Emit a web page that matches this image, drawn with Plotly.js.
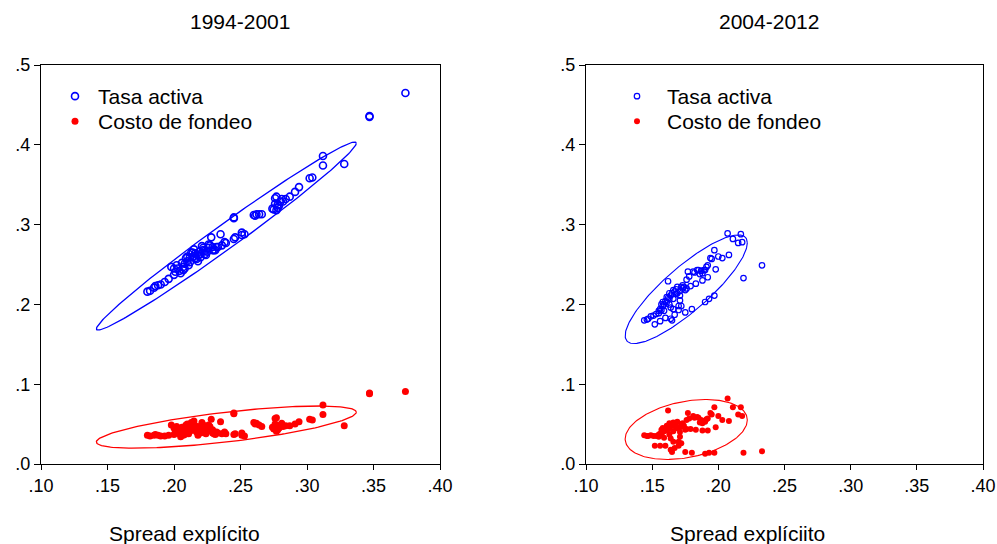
<!DOCTYPE html>
<html>
<head>
<meta charset="utf-8">
<script src="https://cdn.plot.ly/plotly-3.0.1.min.js"></script>
<style>html,body{margin:0;padding:0;background:#fff;}#chart{width:997px;height:544px;}</style>
</head>
<body>
<div id="chart"></div>
<script>
// ---------- 1994-2001 ----------
const leftSpread = [0.180,0.182,0.185,0.186,0.188,0.190,0.193,0.196,0.198,0.200,
0.201,0.202,0.204,0.205,0.207,0.207,0.208,0.209,0.210,0.211,
0.212,0.213,0.214,0.215,0.216,0.217,0.218,0.219,0.220,0.222,
0.222,0.223,0.224,0.226,0.226,0.228,0.229,0.230,0.232,0.233,
0.235,0.236,0.238,0.239,0.245,0.245,0.245,0.246,0.251,0.251,
0.253,0.260,0.261,0.262,0.264,0.266,0.274,0.275,0.276,0.276,
0.277,0.277,0.278,0.278,0.279,0.280,0.281,0.282,0.284,0.287,
0.291,0.294,0.302,0.304,0.312,0.312,0.328,0.347,0.347,0.374,
0.200,0.203,0.206,0.208,0.210,0.212,0.214,0.216,0.218,0.220,
0.221,0.223,0.225,0.227,0.229,0.231];
const leftCosto = [0.036,0.035,0.036,0.037,0.036,0.035,0.035,0.036,0.049,0.045,
0.040,0.047,0.038,0.034,0.036,0.040,0.043,0.049,0.044,0.038,
0.047,0.052,0.051,0.054,0.042,0.040,0.036,0.047,0.043,0.049,
0.046,0.040,0.038,0.045,0.049,0.056,0.039,0.038,0.040,0.039,
0.053,0.038,0.040,0.038,0.064,0.063,0.037,0.038,0.039,0.036,
0.035,0.052,0.050,0.051,0.049,0.047,0.046,0.044,0.057,0.050,
0.041,0.058,0.047,0.043,0.045,0.049,0.051,0.047,0.048,0.048,
0.050,0.053,0.056,0.055,0.062,0.074,0.048,0.089,0.088,0.091,
0.037,0.042,0.046,0.037,0.050,0.041,0.045,0.048,0.043,0.039,
0.052,0.044,0.041,0.047,0.043,0.037];
const leftTasa = [0.216,0.217,0.221,0.223,0.224,0.225,0.228,0.232,0.247,0.245,
0.241,0.249,0.242,0.239,0.243,0.247,0.251,0.258,0.254,0.249,
0.259,0.265,0.265,0.269,0.258,0.257,0.254,0.266,0.263,0.271,
0.268,0.263,0.262,0.271,0.275,0.284,0.268,0.268,0.272,0.272,
0.288,0.274,0.278,0.277,0.309,0.308,0.282,0.284,0.290,0.287,
0.288,0.312,0.311,0.313,0.313,0.313,0.320,0.319,0.333,0.326,
0.318,0.335,0.325,0.321,0.324,0.329,0.332,0.329,0.332,0.335,
0.341,0.347,0.358,0.359,0.374,0.386,0.376,0.436,0.435,0.465,
0.237,0.245,0.252,0.245,0.260,0.253,0.259,0.264,0.261,0.259,
0.273,0.267,0.266,0.274,0.272,0.268];

// ---------- 2004-2012 ----------
const rightSpread = [0.144,0.146,0.147,0.149,0.151,0.152,0.153,0.155,0.156,0.156,
0.157,0.158,0.160,0.160,0.161,0.162,0.162,0.163,0.164,0.164,
0.165,0.165,0.166,0.166,0.167,0.168,0.168,0.169,0.170,0.170,
0.171,0.171,0.172,0.172,0.173,0.174,0.175,0.176,0.176,0.177,
0.178,0.180,0.181,0.182,0.183,0.184,0.185,0.186,0.187,0.188,
0.188,0.189,0.190,0.190,0.191,0.192,0.193,0.194,0.195,0.197,
0.197,0.198,0.203,0.208,0.207,0.211,0.215,0.217,0.218,
0.219,0.233,0.159,0.163,0.179,0.192,0.200,
0.155,0.157,0.158,0.159,0.161,0.163,0.164,0.166,0.167,0.169,
0.171,0.173,0.175];
const rightCosto = [0.036,0.035,0.035,0.036,0.035,0.023,0.035,0.034,0.023,0.038,
0.043,0.040,0.044,0.023,0.048,0.067,0.046,0.051,0.032,0.018,
0.015,0.049,0.028,0.052,0.020,0.051,0.045,0.053,0.028,0.023,
0.034,0.046,0.026,0.050,0.051,0.048,0.015,0.055,0.044,0.064,
0.057,0.014,0.060,0.058,0.043,0.059,0.058,0.052,0.055,0.051,
0.042,0.054,0.053,0.013,0.056,0.042,0.014,0.064,0.062,0.071,
0.014,0.046,0.055,0.054,0.082,0.071,0.062,0.071,0.060,
0.014,0.016,0.041,0.037,0.044,0.057,0.060,
0.037,0.036,0.045,0.033,0.042,0.044,0.047,0.041,0.049,0.045,
0.040,0.047,0.043];
const rightTasa = [0.180,0.181,0.182,0.185,0.186,0.175,0.188,0.189,0.179,0.194,
0.200,0.198,0.204,0.183,0.209,0.229,0.208,0.214,0.196,0.182,
0.180,0.214,0.194,0.218,0.187,0.219,0.213,0.222,0.198,0.193,
0.205,0.217,0.198,0.222,0.224,0.222,0.190,0.231,0.220,0.241,
0.235,0.194,0.241,0.240,0.226,0.243,0.243,0.238,0.242,0.239,
0.230,0.243,0.243,0.203,0.247,0.234,0.207,0.258,0.257,0.268,
0.211,0.244,0.258,0.262,0.289,0.282,0.277,0.288,0.278,
0.233,0.249,0.200,0.200,0.223,0.249,0.260,
0.192,0.193,0.203,0.192,0.203,0.207,0.211,0.207,0.216,0.214,
0.211,0.220,0.218];

const panelTitles = ["1994-2001", "2004-2012"];
const xTitles = ["Spread explícito", "Spread explíciito"];
const seriesNames = ["Tasa activa", "Costo de fondeo"];
const xTickVals = [0.10,0.15,0.20,0.25,0.30,0.35,0.40];
const xTickText = [".10",".15",".20",".25",".30",".35",".40"];
const yTickVals = [0.0,0.1,0.2,0.3,0.4,0.5];
const yTickText = [".0",".1",".2",".3",".4",".5"];
const confidence = 0.95;

// covariance ellipse computed from the data
function ellipse(xs, ys) {
  const n = xs.length;
  const mx = xs.reduce((a,b)=>a+b,0)/n, my = ys.reduce((a,b)=>a+b,0)/n;
  let sxx=0, syy=0, sxy=0;
  for (let i=0;i<n;i++){const dx=xs[i]-mx, dy=ys[i]-my; sxx+=dx*dx; syy+=dy*dy; sxy+=dx*dy;}
  sxx/=(n-1); syy/=(n-1); sxy/=(n-1);
  const k = Math.sqrt(-2*Math.log(1-confidence));
  const a = Math.sqrt(sxx), b = sxy/a, c = Math.sqrt(Math.max(syy-b*b,0));
  const ex=[], ey=[];
  for (let j=0;j<=200;j++){const t=2*Math.PI*j/200; ex.push(mx+k*a*Math.cos(t)); ey.push(my+k*(b*Math.cos(t)+c*Math.sin(t)));}
  return {x:ex, y:ey};
}

const BLUE = "#0000ff", RED = "#ff0000";
const eLT = ellipse(leftSpread, leftTasa), eLC = ellipse(leftSpread, leftCosto);
const eRT = ellipse(rightSpread, rightTasa), eRC = ellipse(rightSpread, rightCosto);

const traces = [
  {x:eLT.x, y:eLT.y, mode:"lines", line:{color:BLUE,width:1.3}, showlegend:false, hoverinfo:"skip", xaxis:"x", yaxis:"y"},
  {x:eLC.x, y:eLC.y, mode:"lines", line:{color:RED,width:1.3}, showlegend:false, hoverinfo:"skip", xaxis:"x", yaxis:"y"},
  {x:leftSpread, y:leftTasa, name:seriesNames[0], mode:"markers", marker:{symbol:"circle-open", size:7, color:BLUE, line:{width:1.6, color:BLUE}}, xaxis:"x", yaxis:"y", legend:"legend"},
  {x:leftSpread, y:leftCosto, name:seriesNames[1], mode:"markers", marker:{symbol:"circle", size:7, color:RED}, xaxis:"x", yaxis:"y", legend:"legend2"},
  {x:eRT.x, y:eRT.y, mode:"lines", line:{color:BLUE,width:1.1}, showlegend:false, hoverinfo:"skip", xaxis:"x2", yaxis:"y2"},
  {x:eRC.x, y:eRC.y, mode:"lines", line:{color:RED,width:1.1}, showlegend:false, hoverinfo:"skip", xaxis:"x2", yaxis:"y2"},
  {x:rightSpread, y:rightTasa, name:seriesNames[0], mode:"markers", marker:{symbol:"circle-open", size:5.5, color:BLUE, line:{width:1.2, color:BLUE}}, xaxis:"x2", yaxis:"y2", legend:"legend3"},
  {x:rightSpread, y:rightCosto, name:seriesNames[1], mode:"markers", marker:{symbol:"circle", size:6, color:RED}, xaxis:"x2", yaxis:"y2", legend:"legend4"}
];

const FONT = "Liberation Sans, Arial, sans-serif";
const W = 997, H = 544;
function px(v){return v/W;} function py(v){return (H-v)/H;}
const axX = {range:[0.10,0.40], tickvals:xTickVals, ticktext:xTickText, ticks:"outside", ticklen:5, tickwidth:1, tickcolor:"#000",
  showline:true, linecolor:"#000", linewidth:1.2, mirror:true, showgrid:false, zeroline:false, tickfont:{family:FONT,size:18,color:"#000"}, fixedrange:true};
const axY = {range:[0,0.5], tickvals:yTickVals, ticktext:yTickText, ticks:"outside", ticklen:6, tickwidth:1, tickcolor:"#000",
  showline:true, linecolor:"#000", linewidth:1.2, mirror:true, showgrid:false, zeroline:false, tickfont:{family:FONT,size:18,color:"#000"}, fixedrange:true, domain:[py(464), py(65)]};

function leg(xpx, ypx, iw){
  return {x:px(xpx), y:py(ypx), xanchor:"left", yanchor:"top", bgcolor:"rgba(0,0,0,0)", font:{family:FONT,size:21,color:"#000"}, itemwidth:iw, tracegroupgap:0, itemclick:false};
}

const layout = {
  width:W, height:H, margin:{l:0,r:0,t:0,b:0}, paper_bgcolor:"#fff", plot_bgcolor:"#fff",
  font:{family:FONT, color:"#000"},
  xaxis:Object.assign({}, axX, {domain:[px(41), px(440)], anchor:"y"}),
  yaxis:Object.assign({}, axY, {anchor:"x"}),
  xaxis2:Object.assign({}, axX, {domain:[px(586), px(983)], anchor:"y2"}),
  yaxis2:Object.assign({}, axY, {anchor:"x2"}),
  legend:leg(52, 76, 36),
  legend2:leg(52, 101, 36),
  legend3:leg(607, 76, 50),
  legend4:leg(607, 101, 50),
  annotations:[
    {text:panelTitles[0], x:px(240), y:py(22), xref:"paper", yref:"paper", showarrow:false, xanchor:"center", yanchor:"middle", font:{family:FONT,size:21,color:"#000"}},
    {text:panelTitles[1], x:px(769), y:py(22), xref:"paper", yref:"paper", showarrow:false, xanchor:"center", yanchor:"middle", font:{family:FONT,size:21,color:"#000"}},
    {text:xTitles[0], x:px(184), y:py(533), xref:"paper", yref:"paper", showarrow:false, xanchor:"center", yanchor:"middle", font:{family:FONT,size:21,color:"#000"}},
    {text:xTitles[1], x:px(747), y:py(533), xref:"paper", yref:"paper", showarrow:false, xanchor:"center", yanchor:"middle", font:{family:FONT,size:21,color:"#000"}}
  ]
};

Plotly.newPlot("chart", traces, layout, {displayModeBar:false, staticPlot:true});
</script>
</body>
</html>
